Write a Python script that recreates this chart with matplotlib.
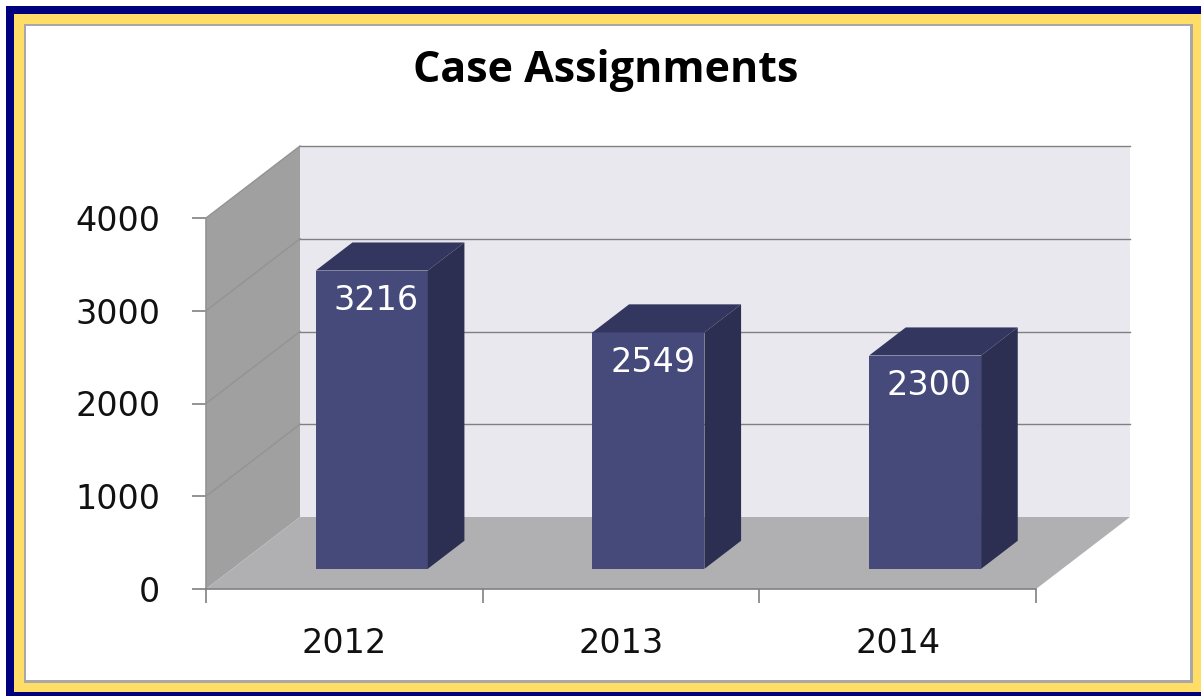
import matplotlib
matplotlib.use("Agg")
import matplotlib.pyplot as plt
from matplotlib.patches import Rectangle, Polygon

years = ["2012", "2013", "2014"]
cases = [3216, 2549, 2300]
y_ticks = [0, 1000, 2000, 3000, 4000]

W, H = 1201, 696

# depth of the fake 3d box, in data units
depth_x = 94 / 276.67
depth_y = 72 / 0.09275
bar_w = 112 / 276.67
bar_front = 0.28
bar_back = 0.67

WALL = "#e8e8ee"
SIDE = "#a0a0a0"
FLOOR = "#b0b0b3"
LINE = "#808080"
SIDE_LINE = "#939393"
BAR = "#454a7a"
BAR_TOP = "#33365e"
BAR_SIDE = "#2d2f52"


def pt(x, y, d=0.0):
    return (x + d * depth_x, y + d * depth_y)


def poly(ax, pts, color, z=1):
    ax.add_patch(Polygon(pts, closed=True, facecolor=color, edgecolor="none", zorder=z, clip_on=False))


fig = plt.figure(figsize=(W / 100, H / 100), dpi=100, facecolor="white")

# border, outermost first
for x0, y0, x1, y1, c in [
    (6, 6, W, H, "#00007f"),
    (14, 14, W, 692, "#ffdd66"),
    (24, 24, 1193, 683, "#a8a8a8"),
    (26, 26, 1190, 680, "white"),
]:
    fig.add_artist(Rectangle((x0 / W, 1 - y1 / H), (x1 - x0) / W, (y1 - y0) / H,
                             transform=fig.transFigure, facecolor=c, edgecolor="none", zorder=-1))

ax = fig.add_axes([206 / W, 1 - 589 / H, 830 / W, 371 / H])
ax.set_xlim(0, 3)
ax.set_ylim(0, 4000)
ax.patch.set_visible(False)
for s in ax.spines.values():
    s.set_visible(False)

top = y_ticks[-1]

# walls and floor
poly(ax, [pt(0, 0, 1), pt(3, 0, 1), pt(3, top, 1), pt(0, top, 1)], WALL)
poly(ax, [pt(0, 0), pt(0, 0, 1), pt(0, top, 1), pt(0, top)], SIDE)
poly(ax, [pt(0, 0), pt(3, 0), pt(3, 0, 1), pt(0, 0, 1)], FLOOR)

for v in y_ticks[1:]:
    a, b, c = pt(0, v), pt(0, v, 1), pt(3, v, 1)
    ax.plot([a[0], b[0]], [a[1], b[1]], color=SIDE_LINE, lw=1, zorder=2, clip_on=False)
    ax.plot([b[0], c[0]], [b[1], c[1]], color=LINE, lw=1, zorder=2, clip_on=False)

# axis lines
ax.plot([0, 0], [0, top], color=SIDE_LINE, lw=1.2, zorder=2, clip_on=False)
ax.plot([0, 3], [0, 0], color=LINE, lw=1.2, zorder=2, clip_on=False)

ax.set_xticks(range(4))
ax.set_xticklabels([])
ax.set_yticks(y_ticks)
ax.set_yticklabels([str(v) for v in y_ticks], fontsize=24, family="DejaVu Sans", color="#111111")
ax.tick_params(axis="y", length=10, width=1.2, color=LINE, pad=23)
ax.tick_params(axis="x", length=10, width=1.2, color=LINE)

for i, (yr, val) in enumerate(zip(years, cases)):
    ax.text(i + 0.5, -585, yr, ha="center", va="center", fontsize=24, color="#111111")
    x0 = i + 0.5 - bar_w / 2 + 0.004
    x1 = x0 + bar_w
    poly(ax, [pt(x0, 0, bar_front), pt(x1, 0, bar_front), pt(x1, val, bar_front), pt(x0, val, bar_front)], BAR, 3)
    poly(ax, [pt(x0, val, bar_front), pt(x1, val, bar_front), pt(x1, val, bar_back), pt(x0, val, bar_back)], BAR_TOP, 3)
    poly(ax, [pt(x1, 0, bar_front), pt(x1, 0, bar_back), pt(x1, val, bar_back), pt(x1, val, bar_front)], BAR_SIDE, 3)
    lx, ly = pt((x0 + x1) / 2 + 0.015, val - 325, bar_front)
    ax.text(lx, ly, str(val), ha="center", va="center", fontsize=24, color="white", zorder=4)

fig.text(606 / W, 1 - 71 / H, "Case Assignments", ha="center", va="center",
         fontsize=31, fontweight="bold", family="Open Sans", color="black")

fig.savefig("out.png", dpi=100)
